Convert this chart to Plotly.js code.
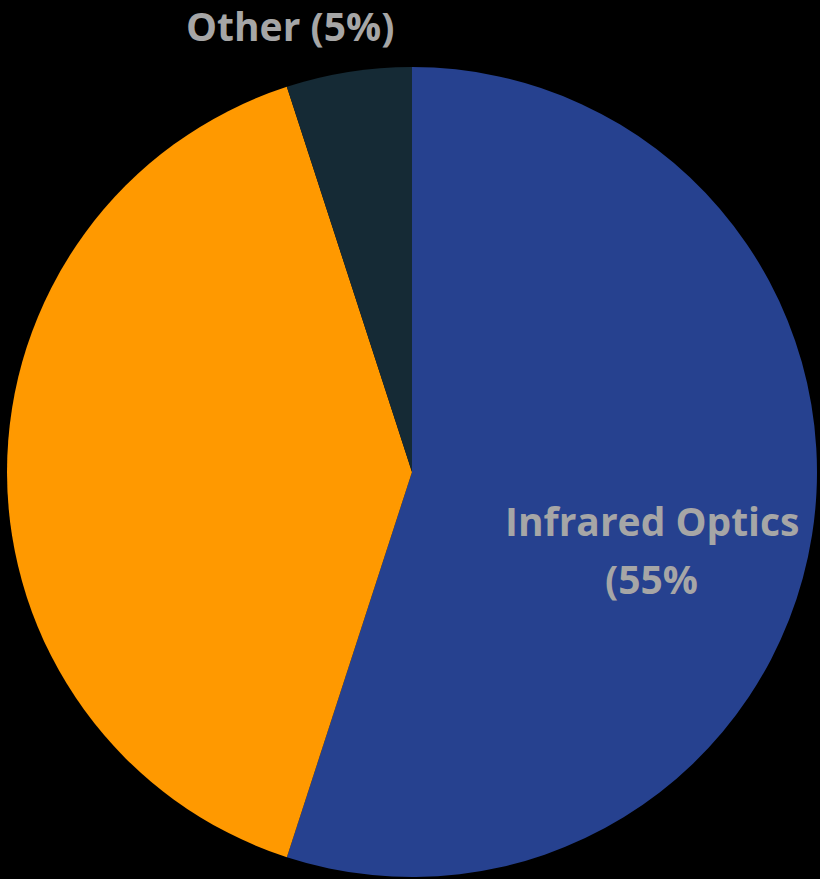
<!DOCTYPE html>
<html>
<head>
<meta charset="utf-8">
<script src="https://cdn.plot.ly/plotly-3.0.1.min.js"></script>
<style>html,body{margin:0;padding:0;background:#000;}#chart{width:820px;height:879px;}</style>
</head>
<body>
<div id="chart"></div>
<script>
const categories = ["Infrared Optics", "Visible Optics", "Other"];
const shares = [55, 40, 5];
const sliceColors = ["#26418F", "#FF9900", "#152A35"];
const labelTexts = ["Infrared Optics<br>(55%", "", "Other (5%)"];

const labelFont = {family: "Open Sans, sans-serif", size: 39, color: "#A6A6A6", weight: "bold"};

const trace = {
  type: "pie",
  labels: categories,
  values: shares,
  sort: false,
  direction: "clockwise",
  rotation: 0,
  marker: {colors: sliceColors, line: {width: 0}},
  textinfo: "none",
  hoverinfo: "label+percent",
  showlegend: false,
  domain: {x: [7/820, 817/820], y: [2/879, 812/879]}
};

// label placement (pixel centres) for each slice's label lines
const labelPos = [[[652, 520], [651, 578]], [], [[290, 25]]];
const annotations = [];
labelTexts.forEach((t, i) => {
  if (!t) return;
  t.split("<br>").forEach((line, j) => {
    const p = labelPos[i][j];
    annotations.push({text: line, x: p[0]/820, y: 1 - p[1]/879, xref: "paper", yref: "paper",
      xanchor: "center", yanchor: "middle", showarrow: false, font: labelFont});
  });
});

const layout = {
  width: 820, height: 879,
  margin: {l: 0, r: 0, t: 0, b: 0},
  paper_bgcolor: "#000000",
  plot_bgcolor: "#000000",
  showlegend: false,
  annotations: annotations
};

Plotly.newPlot("chart", [trace], layout, {displayModeBar: false, staticPlot: true});
</script>
</body>
</html>
